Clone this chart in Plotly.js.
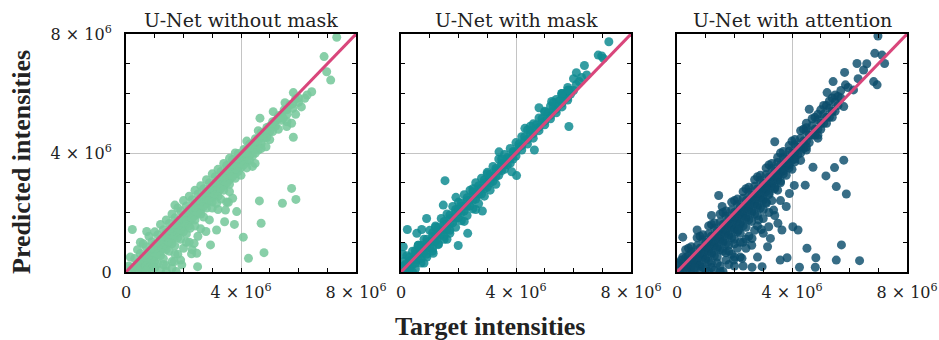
<!DOCTYPE html>
<html>
<head>
<meta charset="utf-8">
<script src="https://cdn.plot.ly/plotly-3.0.1.min.js"></script>
<style>html,body{margin:0;padding:0;background:#fff;}#chart{width:939px;height:340px;}</style>
</head>
<body>
<div id="chart"></div>
<script>
// Values in units of 10^6 (target, predicted)
const panelTitles = ["U-Net without mask", "U-Net with mask", "U-Net with attention"];
const xAxisTitle = "Target intensities";
const yAxisTitle = "Predicted intensities";
const tickValues = [0, 4, 8];
const tickLabels = ["0", "4 × 10<sup>6</sup>", "8 × 10<sup>6</sup>"];
const identityLine = [0, 8];

const pointsWithoutMask = [
  [0.1,0.2],[0.3,0.45],[0.5,0.62],[0.7,0.85],[0.9,1.02],[1.1,1.25],[1.3,1.42],[1.5,1.63],[1.7,1.82],[1.9,2.05],[2.1,2.22],[2.3,2.43],[2.5,2.62],[2.7,2.8],[2.9,3.0],[3.1,3.2],[3.3,3.38],[3.5,3.58],[3.7,3.78],[3.9,3.98],[4.1,4.12],[4.3,4.3],[4.5,4.48],[4.7,4.68],[4.9,4.86],[5.1,5.05],[5.3,5.25],[5.5,5.45],[5.7,5.62],[5.9,5.82],
  [0.2,0.15],[0.4,0.3],[0.6,0.52],[0.8,0.7],[1.0,0.93],[1.2,1.1],[1.4,1.32],[1.6,1.5],[1.8,1.72],[2.0,1.9],[2.2,2.12],[2.4,2.3],[2.6,2.52],[2.8,2.7],[3.0,2.92],[3.2,3.1],[3.4,3.3],[3.6,3.5],[3.8,3.7],[4.0,3.9],[4.2,4.1],[4.4,4.3],[4.6,4.5],[4.8,4.68],[5.0,4.9],[5.2,5.08],[5.4,5.28],[5.6,5.45],[5.8,5.65],[6.0,5.85],
  [0.3,0.15],[0.5,0.35],[0.7,0.55],[0.9,0.75],[1.1,0.95],[1.3,1.15],[1.5,1.35],[1.7,1.55],[1.9,1.75],[2.1,1.95],[2.3,2.15],[2.5,2.35],[2.7,2.55],[2.9,2.75],[3.1,2.95],[3.3,3.15],[3.5,3.35],[3.7,3.55],[3.9,3.75],[4.1,3.95],[4.3,4.15],[4.5,4.35],[4.7,4.55],[4.9,4.75],[5.1,4.95],[5.3,5.15],
  [0.2,0.02],[0.4,0.18],[0.6,0.35],[0.8,0.55],[1.0,0.74],[1.2,0.93],[1.4,1.16],[1.6,1.33],[1.8,1.55],[2.0,1.74],[2.2,1.93],[2.4,2.16],[2.6,2.35],[2.8,2.52],[3.0,2.76],[3.2,2.93],[3.4,3.15],[3.6,3.36],[3.8,3.52],[4.0,3.76],[4.2,3.93],[4.4,4.12],[4.6,4.33],[4.8,4.5],[5.0,4.72],[5.2,4.9],[5.4,5.1],[5.6,5.3],[5.8,5.5],
  [0.5,0.12],[0.7,0.32],[0.9,0.52],[1.1,0.72],[1.3,0.92],[1.5,1.12],[1.7,1.32],[1.9,1.52],[2.1,1.72],[2.3,1.92],[2.5,2.12],[2.7,2.32],[2.9,2.52],[3.1,2.72],[3.3,2.92],[3.5,3.12],[3.7,3.32],[3.9,3.52],[4.1,3.72],[4.3,3.92],[4.5,4.12],[4.7,4.32],[4.9,4.52],[5.1,4.72],
  [0.6,0.1],[0.8,0.3],[1.0,0.5],[1.2,0.7],[1.4,0.9],[1.6,1.1],[1.8,1.3],[2.0,1.5],[2.2,1.7],[2.4,1.9],[2.6,2.1],[2.8,2.3],[3.0,2.5],[3.2,2.7],[3.4,2.9],[3.6,3.1],[3.8,3.3],[4.0,3.5],[4.2,3.7],[4.4,3.9],[4.6,4.1],
  [0.5,0.05],[0.7,0.22],[0.9,0.38],[1.1,0.6],[1.3,0.8],[1.5,0.98],[1.7,1.2],[1.9,1.38],[2.1,1.6],[2.3,1.8],[2.5,1.98],[2.7,2.2],[2.9,2.4],[3.1,2.58],[3.3,2.8],[3.5,2.98],[3.7,3.2],[3.9,3.38],[4.1,3.6],[4.3,3.75],[4.5,4.0],[4.7,4.15],[5.0,4.45],[5.3,4.8],[5.6,5.05],
  [0.8,0.15],[1.0,0.35],[1.2,0.55],[1.4,0.75],[1.6,0.95],[1.8,1.15],[2.0,1.35],[2.2,1.55],[2.4,1.75],[2.6,1.95],[2.8,2.15],[3.0,2.35],[3.2,2.55],[3.4,2.75],[3.6,2.95],[3.8,3.15],[4.2,3.5],
  [0.9,0.1],[1.1,0.28],[1.3,0.45],[1.5,0.7],[1.7,0.88],[1.9,1.1],[2.1,1.28],[2.4,1.55],[2.7,1.85],[3.0,2.15],[3.3,2.45],[3.6,2.7],[4.0,3.25],[4.4,3.55],
  [1.2,0.05],[1.4,0.22],[1.6,0.35],[1.8,0.6],[2.0,0.8],[2.2,1.0],[2.5,1.2],[0.7,0.05],[1.0,0.15],[1.6,0.12],[1.75,0.02],
  [1.4,0.02],[1.9,0.4],[2.3,0.75],[2.6,1.45],[2.9,1.75],[3.2,2.1],[3.5,2.35],[1.3,0.25],[1.7,0.6],[2.1,1.0],
  [0.4,0.75],[0.8,1.2],[1.2,1.6],[1.6,1.95],[2.0,2.4],[2.4,2.75],[2.8,3.1],[3.2,3.45],[3.6,3.82],[1.7,2.25],[0.72,1.36],[0.22,1.43],
  [0.6,0.95],[1.0,1.35],[1.4,1.75],[1.8,2.15],[2.2,2.55],[2.6,2.9],[3.0,3.3],[3.4,3.65],[3.8,4.0],[4.2,4.4],[4.6,4.75],[0.15,0.5],[0.5,1.0],
  [7.33,7.89],[6.89,7.24],[6.98,6.73],[7.12,6.45],[6.46,6.06],[5.82,6.03],[6.22,5.84],[5.53,5.69],[5.12,5.39],[4.66,5.17],[5.47,5.17],[5.59,4.89],[5.76,5.0],[5.82,4.53],[4.87,4.21],[4.49,3.65],
  [5.76,2.81],[5.91,2.44],[5.44,2.31],[4.64,2.39],[4.70,1.64],[4.08,1.17],[4.80,0.65],[4.26,0.46],[3.85,2.03],[3.71,2.48],[3.56,2.34],[3.15,2.31],[3.46,2.08],[3.77,1.60],[3.43,1.69],[3.15,1.41],[2.78,1.36],[2.94,0.91],[2.37,0.96],[2.46,0.63],[2.28,0.61],[2.49,0.18],[1.94,0.24],[1.68,0.35],[2.23,1.47],
  [6.0,5.7],[6.3,5.95],[6.1,5.55],[5.9,5.3]
];

const pointsWithMask = [
  [0.1,0.35],[0.3,0.5],[0.5,0.72],[0.7,0.9],[0.9,1.1],[1.1,1.32],[1.3,1.5],[1.5,1.7],[1.7,1.92],[1.9,2.1],[2.1,2.32],[2.3,2.5],[2.5,2.7],[2.7,2.9],[2.9,3.1],[3.1,3.28],[3.3,3.48],[3.5,3.65],[3.7,3.85],[3.9,4.05],[4.1,4.3],[4.3,4.55],[4.5,4.75],[4.7,4.95],[4.9,5.15],[5.1,5.35],[5.3,5.55],[5.5,5.75],[5.7,5.95],[5.9,6.1],[6.1,6.3],
  [0.2,0.22],[0.4,0.42],[0.6,0.62],[0.8,0.83],[1.0,1.03],[1.2,1.22],[1.4,1.42],[1.6,1.62],[1.8,1.83],[2.0,2.03],[2.2,2.22],[2.4,2.42],[2.6,2.62],[2.8,2.82],[3.0,3.03],[3.2,3.22],[3.4,3.42],[3.6,3.62],[3.8,3.82],[4.0,4.05],[4.2,4.25],[4.4,4.45],[4.6,4.65],[4.8,4.87],[5.0,5.07],[5.2,5.27],[5.4,5.47],[5.6,5.68],[5.8,5.88],[6.0,6.1],
  [0.1,0.2],[0.3,0.38],[0.5,0.6],[0.7,0.8],[0.9,1.0],[1.1,1.2],[1.3,1.4],[1.5,1.6],[1.7,1.8],[1.9,2.0],[2.1,2.2],[2.3,2.4],[2.5,2.6],[2.7,2.8],[2.9,3.0],[3.1,3.2],[3.3,3.4],[3.5,3.6],[3.7,3.8],[3.9,4.0],[4.1,4.2],[4.3,4.42],[4.5,4.62],[4.7,4.82],[4.9,5.02],[5.1,5.22],[5.3,5.42],[5.5,5.62],[5.7,5.82],[5.9,5.98],
  [0.3,0.22],[0.7,0.6],[1.1,1.0],[1.5,1.4],[1.9,1.8],[2.3,2.2],[2.7,2.6],[3.1,3.0],[3.5,3.4],[3.9,3.8],[0.5,0.4],[0.9,0.8],[1.3,1.2],[1.7,1.6],[2.1,2.0],[2.5,2.4],[2.9,2.8],[3.3,3.2],[3.7,3.6],
  [0.2,0.55],[0.4,0.7],[0.6,0.9],[0.8,1.1],[1.2,1.55],[1.6,1.95],[2.0,2.35],[2.4,2.75],[2.8,3.15],[3.2,3.55],[3.4,3.8],
  [3.6,3.95],[3.8,4.15],[4.0,4.35],[4.2,4.55],[4.4,4.78],[4.6,4.98],[4.8,5.18],[5.0,5.38],[5.2,5.58],[5.4,5.8],[5.6,5.95],[5.8,6.1],[1.0,1.4],[1.4,1.8],[1.8,2.2],[2.2,2.6],[2.6,3.0],[3.0,3.35],
  [0.2,0.05],[0.4,0.25],[0.6,0.42],[0.8,0.65],[1.0,0.85],[1.2,1.02],[1.4,1.25],[1.6,1.42],[1.8,1.65],[2.0,1.82],[2.2,2.05],[2.4,2.22],[2.6,2.45],[2.8,2.62],[3.0,2.85],[3.2,3.05],[3.4,3.25],[3.6,3.45],[3.8,3.65],[4.0,3.9],[4.2,4.1],[4.4,4.3],[4.6,4.5],[4.8,4.75],[5.0,4.95],[5.2,5.15],[5.4,5.35],[5.6,5.55],[5.8,5.78],
  [0.5,0.1],[0.7,0.3],[0.9,0.5],[1.1,0.7],[1.3,0.92],[1.5,1.1],[1.7,1.3],[1.9,1.5],[2.1,1.72],[2.3,1.9],[2.5,2.12],[2.7,2.3],[2.9,2.55],[3.1,2.75],[3.3,2.95],
  [0.1,0.1],[0.3,0.1],[0.5,0.3],[0.7,0.45],[0.9,0.6],[1.1,0.8],[1.3,0.95],[1.5,1.2],[1.7,1.4],[2.0,2.1],[2.5,2.8],[3.0,3.3],[1.2,1.5],[0.6,0.9],[5.6,6.0],[5.8,6.2],[6.0,6.5],[5.3,5.7],[0.05,0.6],[0.15,0.25],[0.4,0.0],[0.8,0.3],[1.6,1.1],[2.2,1.7],[2.6,2.1],[3.5,3.8],[4.5,4.9],[5.0,5.4],
  [7.23,7.74],[6.86,7.29],[6.98,7.26],[7.04,7.18],[6.38,6.94],[6.46,6.62],[6.28,6.54],[5.84,4.89],[4.80,5.52],[4.31,4.83],[4.64,4.10],[4.02,3.24],[3.85,3.37],[3.41,4.04],[1.53,3.07],[1.91,2.51],[1.47,2.25],[0.89,1.80],[0.72,1.43],[0.22,1.43],[0.55,1.3],[1.99,0.89],[2.32,1.30],[2.83,2.05],[1.12,0.63],[0.08,0.85],[5.59,6.0],[5.82,6.12],[5.24,5.73],[6.1,6.7],[6.2,6.4]
];

const pointsWithAttention = [
  [0.1,0.25],[0.3,0.48],[0.5,0.68],[0.7,0.88],[0.9,1.08],[1.1,1.28],[1.3,1.48],[1.5,1.68],[1.7,1.88],[1.9,2.08],[2.1,2.28],[2.3,2.48],[2.5,2.68],[2.7,2.88],[2.9,3.08],[3.1,3.28],[3.3,3.48],[3.5,3.68],[3.7,3.86],[3.9,4.06],[4.1,4.28],[4.3,4.5],[4.5,4.72],[4.7,4.92],[4.9,5.12],[5.1,5.3],[5.3,5.5],[5.5,5.7],[5.7,5.85],
  [0.2,0.2],[0.4,0.4],[0.6,0.58],[0.8,0.8],[1.0,0.98],[1.2,1.2],[1.4,1.38],[1.6,1.6],[1.8,1.78],[2.0,2.0],[2.2,2.18],[2.4,2.4],[2.6,2.58],[2.8,2.8],[3.0,2.98],[3.2,3.2],[3.4,3.38],[3.6,3.6],[3.8,3.78],[4.0,4.0],[4.2,4.2],[4.4,4.4],[4.6,4.6],[4.8,4.8],[5.0,5.0],[5.2,5.2],[5.4,5.4],[5.6,5.6],
  [0.3,0.2],[0.5,0.4],[0.7,0.6],[0.9,0.8],[1.1,1.0],[1.3,1.2],[1.5,1.4],[1.7,1.6],[1.9,1.8],[2.1,2.0],[2.3,2.2],[2.5,2.4],[2.7,2.6],[2.9,2.8],[3.1,3.0],[3.3,3.2],[3.5,3.4],[3.7,3.6],[3.9,3.8],[4.1,4.0],[4.3,4.2],[4.5,4.4],[4.7,4.6],[4.9,4.8],[5.1,5.0],[5.3,5.2],[5.5,5.4],
  [0.4,0.8],[0.8,1.2],[1.2,1.6],[1.6,2.0],[2.0,2.4],[2.4,2.8],[2.8,3.2],[3.2,3.6],[3.6,4.0],[4.0,4.4],[4.4,4.8],[4.8,5.2],[5.2,5.6],[5.4,5.85],[5.0,5.45],
  [0.2,0.5],[0.5,0.85],[0.9,1.25],[1.3,1.65],[1.7,2.05],[2.1,2.45],[2.5,2.85],[2.9,3.25],[3.3,3.65],[3.7,4.05],[4.1,4.45],[4.5,4.85],[4.9,5.3],[5.3,5.75],[5.5,5.95],[5.7,6.1],
  [0.3,0.75],[0.7,1.15],[1.1,1.55],[1.5,1.95],[1.9,2.35],[2.3,2.7],[2.7,3.1],[3.1,3.5],[3.5,3.85],[3.9,4.25],[4.3,4.75],[4.7,5.15],[5.1,5.6],[4.5,5.0],[0.2,1.17],[0.7,1.41],[1.45,2.57],[1.57,2.20],[1.2,1.9],
  [0.2,0.0],[0.4,0.15],[0.6,0.35],[0.8,0.55],[1.0,0.75],[1.2,0.95],[1.4,1.15],[1.6,1.35],[1.8,1.55],[2.0,1.75],[2.2,1.95],[2.4,2.15],[2.6,2.35],[2.8,2.55],[3.0,2.75],[3.2,2.95],[3.4,3.15],[3.6,3.35],[3.8,3.55],[4.0,3.75],[4.2,3.95],[4.4,4.15],[4.6,4.35],[4.8,4.6],[5.0,4.8],[5.2,5.0],[5.4,5.2],
  [0.5,0.2],[0.9,0.6],[1.3,1.0],[1.7,1.4],[2.1,1.8],[2.5,2.2],[2.9,2.6],[3.3,3.0],[3.7,3.4],[4.1,3.8],[4.5,4.2],[4.9,4.6],[0.7,0.4],[1.1,0.8],[1.5,1.2],[1.9,1.6],[2.3,2.0],[2.7,2.4],[3.1,2.8],[3.5,3.2],[3.9,3.6],[4.3,4.0],
  [0.5,0.1],[0.7,0.3],[0.9,0.5],[1.1,0.7],[1.3,0.9],[1.5,1.1],[1.7,1.3],[1.9,1.5],[2.1,1.7],[2.3,1.9],[2.5,2.1],[2.7,2.3],[2.9,2.5],[3.1,2.7],[3.3,2.9],[3.5,3.1],[3.7,3.3],[3.9,3.5],[4.1,3.7],[4.5,4.1],[4.9,4.5],
  [0.6,0.05],[0.8,0.25],[1.0,0.45],[1.2,0.65],[1.4,0.85],[1.6,1.05],[1.8,1.25],[2.0,1.45],[2.2,1.65],[2.4,1.85],[2.6,2.05],[2.8,2.25],[3.0,2.45],[3.2,2.65],[3.4,2.85],[3.6,3.05],[3.8,3.25],[4.0,3.45],[4.3,3.75],
  [0.8,0.2],[1.2,0.6],[1.6,1.0],[2.0,1.4],[2.4,1.8],[2.8,2.2],[3.2,2.6],[3.6,3.0],[1.0,0.4],[1.4,0.8],[1.8,1.2],[2.2,1.6],[2.6,2.0],[3.0,2.4],[3.4,2.8],
  [0.9,0.15],[1.1,0.35],[1.3,0.55],[1.5,0.75],[1.7,0.95],[1.9,1.15],[2.1,1.35],[2.3,1.55],[2.5,1.75],[2.7,1.95],[2.9,2.15],[3.1,2.35],[3.5,2.75],
  [1.0,0.1],[1.2,0.3],[1.4,0.5],[1.6,0.7],[1.8,0.9],[2.0,1.1],[2.2,1.3],[2.4,1.5],[2.6,1.7],[2.8,1.9],[3.0,2.1],[3.3,2.4],
  [1.3,0.05],[1.5,0.2],[1.7,0.4],[1.9,0.6],[2.1,0.8],[2.3,1.0],[2.5,1.2],[2.7,1.4],[0.8,0.0],[1.1,0.02],[1.6,0.02],[2.0,0.2],[2.2,0.5],[2.6,0.9],[3.0,1.8],[3.2,2.0],
  [1.2,0.15],[1.4,0.3],[1.8,0.25],[1.8,0.7],[2.2,1.0],[2.4,1.1],[2.8,1.55],[2.0,0.5],[1.5,0.02],[2.3,0.2],[2.8,0.5],[3.4,1.9],[3.0,1.3],
  [0.1,0.05],[0.3,0.0],[0.05,0.3],[0.15,0.4],[0.4,0.55],[0.6,0.15],
  [6.99,7.93],[6.88,7.35],[7.13,7.29],[7.22,7.01],[6.26,7.01],[6.49,6.79],[5.83,6.71],[6.84,6.40],[6.96,6.29],[5.43,6.40],[5.22,6.03],[5.86,6.29],[6.14,6.12],[5.80,5.56],[4.60,5.47],[3.40,4.38],
  [5.80,3.76],[5.48,3.51],[5.18,3.23],[5.54,2.87],[5.89,2.62],[4.73,3.52],[4.46,2.92],[4.08,2.91],[3.91,2.64],[4.21,1.41],[4.52,0.80],[4.83,0.48],[5.54,0.40],[5.72,0.91],[6.35,0.38],[3.59,0.40],[3.83,0.48],[4.26,0.16],[4.81,0.16],
  [3.11,2.31],[3.36,2.08],[2.84,1.75],[3.51,1.64],[3.19,1.52],[3.25,1.13],[3.15,0.85],[2.93,1.43],[2.14,1.41],[2.61,1.13],[1.70,0.65],[1.97,0.40],[2.26,0.46],[2.96,0.18],[2.61,0.16],[3.65,1.41],[4.03,1.52],[3.6,2.4],[3.8,2.2],[2.4,0.8],[2.0,0.95],
  [5.95,6.2],[5.6,5.9],[6.3,6.5],[6.6,7.0]
];

const panelPoints = [pointsWithoutMask, pointsWithMask, pointsWithAttention];
const pointColors = ["#78c89c", "#118c92", "#0b4d6b"];
const pointOpacity = [0.88, 0.85, 0.82];
const lineColor = "#d9467b";

const W = 939, H = 340;
const plotLeft = [126, 401, 677], plotWidth = 230;
const plotTop = 34, plotBottom = 272;
const serif = "'DejaVu Serif', 'Liberation Serif', serif";
const boldSerif = "'Liberation Serif', 'DejaVu Serif', serif";

const traces = [];
const layout = {
  width: W, height: H,
  margin: {l: 0, r: 0, t: 0, b: 0},
  paper_bgcolor: "#fff", plot_bgcolor: "#fff",
  showlegend: false,
  font: {family: serif, size: 16, color: "#222"},
  annotations: []
};

panelPoints.forEach((pts, i) => {
  const sfx = i === 0 ? "" : String(i + 1);
  traces.push({
    type: "scatter", mode: "markers",
    x: pts.map(p => p[0]), y: pts.map(p => p[1]),
    xaxis: "x" + sfx, yaxis: "y" + sfx,
    marker: {size: 9, color: pointColors[i], opacity: pointOpacity[i], line: {width: 0}},
    hoverinfo: "skip", cliponaxis: true
  });
  traces.push({
    type: "scatter", mode: "lines",
    x: identityLine, y: identityLine,
    xaxis: "x" + sfx, yaxis: "y" + sfx,
    line: {color: lineColor, width: 3},
    hoverinfo: "skip"
  });
  const common = {
    range: [0, 8], fixedrange: true,
    showline: true, linecolor: "#000", linewidth: 2, mirror: "allticks",
    ticks: "inside", ticklen: 4, tickcolor: "#000", tickwidth: 1,
    tickvals: tickValues, ticktext: tickLabels,
    showgrid: true, gridcolor: "#c4c4c4", gridwidth: 1,
    zeroline: false,
    minor: {ticks: "inside", ticklen: 4, tickcolor: "#000", dtick: 1, tick0: 0, showgrid: false},
    tickfont: {family: serif, size: 16, color: "#222"}
  };
  layout["xaxis" + sfx] = Object.assign({}, common, {
    domain: [plotLeft[i] / W, (plotLeft[i] + plotWidth) / W],
    anchor: "y" + sfx, ticklabelstandoff: 5
  });
  layout["yaxis" + sfx] = Object.assign({}, common, {
    domain: [(H - plotBottom) / H, (H - plotTop) / H],
    anchor: "x" + sfx, ticklabelstandoff: 9,
    showticklabels: i === 0
  });
  layout.annotations.push({
    text: panelTitles[i], xref: "paper", yref: "paper",
    x: (plotLeft[i] + plotWidth / 2) / W, y: (H - plotTop) / H,
    xanchor: "center", yanchor: "bottom", yshift: 1, showarrow: false,
    font: {family: serif, size: 19, color: "#222"}
  });
});

layout.annotations.push({
  text: "<b>" + xAxisTitle + "</b>", xref: "paper", yref: "paper",
  x: 490 / W, y: 14 / H, xanchor: "center", yanchor: "middle", showarrow: false,
  font: {family: boldSerif, size: 26, color: "#222"}
});
layout.annotations.push({
  text: "<b>" + yAxisTitle + "</b>", xref: "paper", yref: "paper",
  x: 21 / W, y: (H - 162) / H, xanchor: "center", yanchor: "middle", showarrow: false,
  textangle: -90,
  font: {family: boldSerif, size: 26, color: "#222"}
});

Plotly.newPlot("chart", traces, layout, {staticPlot: true, displayModeBar: false});
</script>
</body>
</html>
